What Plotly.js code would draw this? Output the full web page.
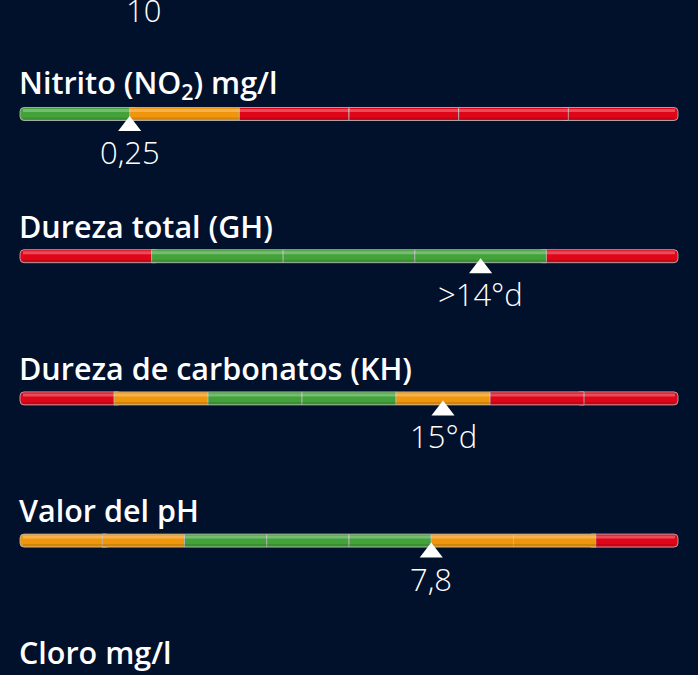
<!DOCTYPE html>
<html><head><meta charset="utf-8">
<script src="https://cdn.plot.ly/plotly-3.0.1.min.js"></script>
<style>html,body{margin:0;padding:0;background:#01102b;overflow:hidden;}</style>
</head><body><div id="chart" style="width:698px;height:675px;"></div>
<script>
// ---- data ----
const rowTitles = ['Nitrito (NO<sub>2</sub>) mg/l', 'Dureza total (GH)', 'Dureza de carbonatos (KH)', 'Valor del pH', 'Cloro mg/l'];
const titleRows = [0, 1, 2, 3, 4];
const barRows = [0, 1, 2, 3];
const nitritoSegments = ['G', 'O', 'R', 'R', 'R', 'R'];
const ghSegments = ['R', 'G', 'G', 'G', 'R'];
const khSegments = ['R', 'O', 'G', 'G', 'O', 'R', 'R'];
const phSegments = ['O', 'O', 'G', 'G', 'G', 'O', 'O', 'R'];
const markerSegPos = [1, 3.5, 4.5, 5];           // marker position in segment units
const valueLabels = ['0,25', '>14°d', '15°d', '7,8'];
const prevRowLabel = '10';                        // value label of the row above (bar out of view)
const prevRowLabelPos = 0.188;                    // fraction of scale
const prevRowIndex = -1;

// ---- style ----
const palette = { G: '#43a33a', O: '#f0960c', R: '#e0061a' };
const BG = '#01102b';
const ROW_PX = 142.2, BAR0_PX = 114, LEFT_PX = 20, RIGHT_PX = 678;
const SCALE_PX = RIGHT_PX - LEFT_PX;
const segRows = [nitritoSegments, ghSegments, khSegments, phSegments];
const OVER = 8 / SCALE_PX;   // end caps slide under their neighbour

const first = { x: [], base: [], y: [], c: [] };
const mid = { x: [], base: [], y: [], c: [] };
const last = { x: [], base: [], y: [], c: [] };
segRows.forEach((segs, k) => {
  const n = segs.length, r = barRows[k];
  segs.forEach((s, i) => {
    if (i === 0) { first.x.push(-(1 / n + OVER)); first.base.push(1 / n + OVER); first.y.push(r); first.c.push(palette[s]); }
    else if (i === n - 1) { last.x.push(1 / n + OVER); last.base.push((n - 1) / n - OVER); last.y.push(r); last.c.push(palette[s]); }
    else { mid.x.push(1 / n); mid.base.push(i / n); mid.y.push(r); mid.c.push(palette[s]); }
  });
});
const BW = 13 / ROW_PX;
function barTrace(d, radius) {
  return {
    type: 'bar', orientation: 'h', x: d.x, base: d.base, y: d.y, width: BW,
    marker: { color: d.c, cornerradius: radius, line: { color: 'rgba(185,185,185,0.85)', width: 1 } },
    hoverinfo: 'skip'
  };
}
// glossy highlight along the top of each bar
const glossTrace = {
  type: 'bar', orientation: 'h', y: barRows.map(r => r - 3.5 / ROW_PX), x: barRows.map(() => 1 - 6 / SCALE_PX),
  base: barRows.map(() => 3 / SCALE_PX), width: 3 / ROW_PX,
  marker: { color: 'rgba(255,255,255,0.28)', line: { width: 0 } }, hoverinfo: 'skip'
};
const shadeTrace = {
  type: 'bar', orientation: 'h', y: barRows.map(r => r + 4.5 / ROW_PX), x: barRows.map(() => 1 - 6 / SCALE_PX),
  base: barRows.map(() => 3 / SCALE_PX), width: 2 / ROW_PX,
  marker: { color: 'rgba(0,0,0,0.12)', line: { width: 0 } }, hoverinfo: 'skip'
};
const markerX = markerSegPos.map((p, k) => p / segRows[k].length);
const markerTrace = {
  type: 'scatter', mode: 'markers', x: markerX, y: barRows.map(r => r + 12 / ROW_PX),
  marker: { symbol: 'triangle-up', size: 20, color: '#ffffff', line: { width: 0 } },
  hoverinfo: 'skip'
};

const annotations = [];
titleRows.forEach((r, i) => annotations.push({
  x: 0, y: r - 30.5 / ROW_PX, xref: 'x', yref: 'y', xanchor: 'left', yanchor: 'middle', showarrow: false, xshift: -3,
  text: rowTitles[i], font: { family: 'Open Sans', size: 30.5, weight: 600, color: '#ffffff' }
}));
barRows.forEach((r, i) => annotations.push({
  x: markerX[i], y: r + 38 / ROW_PX, xref: 'x', yref: 'y', xanchor: 'center', yanchor: 'middle', showarrow: false,
  text: valueLabels[i], font: { family: 'Open Sans', size: 31, weight: 300, color: '#ffffff' }
}));
annotations.push({
  x: prevRowLabelPos, y: prevRowIndex + 38 / ROW_PX, xref: 'x', yref: 'y', xanchor: 'center', yanchor: 'middle', showarrow: false,
  text: prevRowLabel, font: { family: 'Open Sans', size: 31, weight: 300, color: '#ffffff' }
});

const layout = {
  width: 698, height: 675, margin: { l: 0, r: 0, t: 0, b: 0, pad: 0 },
  paper_bgcolor: BG, plot_bgcolor: BG, showlegend: false, barmode: 'overlay',
  xaxis: { range: [-LEFT_PX / SCALE_PX, 1 + (698 - RIGHT_PX) / SCALE_PX], visible: false, fixedrange: true },
  yaxis: { range: [(675 - BAR0_PX) / ROW_PX, -BAR0_PX / ROW_PX], visible: false, fixedrange: true },
  annotations: annotations
};
Plotly.newPlot('chart', [barTrace(first, 4), barTrace(last, 4), barTrace(mid, 0), glossTrace, shadeTrace, markerTrace], layout, { staticPlot: true, displayModeBar: false });
</script></body></html>
